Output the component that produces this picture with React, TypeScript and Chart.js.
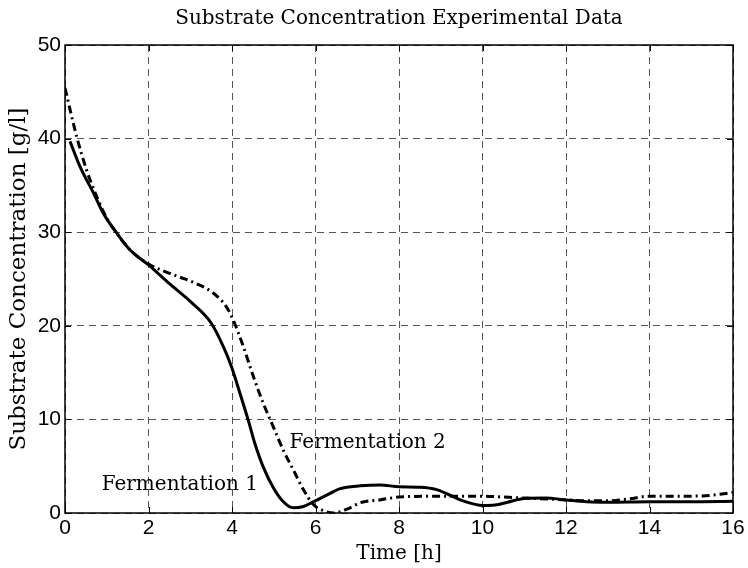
import React, { useEffect, useRef } from "react";
import { Chart, registerables } from "chart.js";

Chart.register(...registerables);

const titleText = "Substrate Concentration Experimental Data";
const xTitle = "Time [h]";
const yTitle = "Substrate Concentration [g/l]";

const f1Label = "Fermentation 1";
const f1X = [0.12, 0.36, 0.68, 0.92, 1.24, 1.56, 2.0, 2.5, 3.0, 3.5, 3.79, 3.99, 4.19, 4.39, 4.55, 4.75, 4.99, 5.23, 5.47, 5.71, 5.95, 6.35, 6.59, 7.07, 7.54, 8.0, 8.5, 8.9, 9.2, 9.5, 9.8, 10.0, 10.3, 10.6, 11.0, 11.5, 12.0, 12.5, 13.0, 14.0, 15.0, 16.0];
const f1Y = [39.7, 37.0, 34.2, 32.0, 29.9, 28.1, 26.5, 24.5, 22.6, 20.3, 17.8, 15.6, 12.8, 9.9, 7.4, 4.9, 2.7, 1.2, 0.55, 0.7, 1.2, 2.1, 2.6, 2.9, 3.0, 2.8, 2.75, 2.5, 1.95, 1.35, 0.95, 0.8, 0.85, 1.15, 1.55, 1.6, 1.4, 1.2, 1.15, 1.2, 1.2, 1.25];

const f2Label = "Fermentation 2";
const f2X = [0, 0.28, 0.52, 0.76, 1.0, 1.24, 1.56, 2.0, 2.51, 2.75, 3.15, 3.55, 3.87, 4.03, 4.27, 4.51, 4.75, 4.99, 5.23, 5.47, 5.71, 5.95, 6.19, 6.43, 6.8, 7.07, 7.54, 8.0, 9.0, 10.0, 10.5, 11.0, 12.0, 12.5, 13.0, 13.5, 14.0, 14.5, 15.0, 15.5, 16.0];
const f2Y = [45.4, 40.2, 36.6, 33.8, 31.5, 29.9, 28.1, 26.6, 25.6, 25.2, 24.5, 23.5, 22.0, 20.6, 17.8, 14.6, 11.7, 9.2, 6.7, 4.6, 2.5, 0.9, 0.25, 0.0, 0.5, 1.1, 1.4, 1.7, 1.8, 1.8, 1.7, 1.6, 1.4, 1.3, 1.3, 1.5, 1.8, 1.8, 1.8, 1.9, 2.2];

const xTicks = [0, 2, 4, 6, 8, 10, 12, 14, 16];
const yTicks = [0, 10, 20, 30, 40, 50];

const annotationTexts = [f1Label, f2Label];
const annotationX = [2.75, 7.25];
const annotationY = [3.0, 7.5];

const SERIF = "'DejaVu Serif', 'Liberation Serif', serif";
const SANS = "'Liberation Sans', Arial, Helvetica, sans-serif";

const titlePlugin = {
  id: "plotTitle",
  afterDraw(chart: any) {
    const { ctx, chartArea } = chart;
    ctx.save();
    ctx.fillStyle = "#000";
    ctx.font = `20px ${SERIF}`;
    ctx.textAlign = "center";
    ctx.textBaseline = "middle";
    ctx.fillText(titleText, (chartArea.left + chartArea.right) / 2, 19);
    ctx.restore();
  },
};

const boxPlugin = {
  id: "boxAndTicks",
  afterDraw(chart: any) {
    const { ctx, chartArea } = chart;
    const { left, right, top, bottom } = chartArea;
    const xs = chart.scales.x;
    const ys = chart.scales.y;
    ctx.save();
    ctx.strokeStyle = "#000";
    ctx.lineWidth = 1;
    ctx.setLineDash([]);
    ctx.beginPath();
    const tl = 6;
    xs.ticks.forEach((t: any) => {
      const p = Math.round(xs.getPixelForValue(t.value)) + 0.5;
      ctx.moveTo(p, bottom);
      ctx.lineTo(p, bottom - tl);
      ctx.moveTo(p, top);
      ctx.lineTo(p, top + tl);
    });
    ys.ticks.forEach((t: any) => {
      const p = Math.round(ys.getPixelForValue(t.value)) + 0.5;
      ctx.moveTo(left, p);
      ctx.lineTo(left + tl, p);
      ctx.moveTo(right, p);
      ctx.lineTo(right - tl, p);
    });
    ctx.stroke();
    ctx.lineWidth = 1.5;
    ctx.strokeRect(left, top, right - left, bottom - top);
    ctx.restore();
  },
};

const annotationPlugin = {
  id: "textAnnotations",
  afterDatasetsDraw(chart: any) {
    const { ctx } = chart;
    const xs = chart.scales.x;
    const ys = chart.scales.y;
    ctx.save();
    ctx.fillStyle = "#000";
    ctx.font = `20px ${SERIF}`;
    ctx.textAlign = "center";
    ctx.textBaseline = "middle";
    annotationTexts.forEach((txt, i) => {
      ctx.fillText(txt, xs.getPixelForValue(annotationX[i]), ys.getPixelForValue(annotationY[i]));
    });
    ctx.restore();
  },
};

export default function App() {
  const canvasRef = useRef<HTMLCanvasElement | null>(null);

  useEffect(() => {
    const canvas = canvasRef.current;
    if (!canvas) return;
    const chart = new Chart(canvas, {
      type: "line",
      data: {
        datasets: [
          {
            label: f1Label,
            data: f1X.map((x, i) => ({ x, y: f1Y[i] })),
            borderColor: "#000",
            borderWidth: 3,
            pointRadius: 0,
            fill: false,
            cubicInterpolationMode: "monotone",
            borderCapStyle: "butt",
            borderJoinStyle: "round",
          },
          {
            label: f2Label,
            data: f2X.map((x, i) => ({ x, y: f2Y[i] })),
            borderColor: "#000",
            borderWidth: 3,
            borderDash: [8, 4, 2, 4],
            pointRadius: 0,
            fill: false,
            cubicInterpolationMode: "monotone",
            borderCapStyle: "butt",
            borderJoinStyle: "round",
          },
        ],
      },
      options: {
        animation: false,
        responsive: false,
        devicePixelRatio: 1,
        layout: { padding: { left: 0, right: 15, top: 45, bottom: 0 } },
        plugins: {
          legend: { display: false },
          tooltip: { enabled: false },
          title: { display: false },
        },
        scales: {
          x: {
            type: "linear",
            min: 0,
            max: 16,
            afterBuildTicks(scale: any) {
              scale.ticks = xTicks.map((v) => ({ value: v }));
            },
            afterFit(scale: any) {
              scale.height = 55;
            },
            ticks: {
              color: "#000",
              font: { family: SANS, size: 21 },
              padding: 3,
              maxRotation: 0,
              autoSkip: false,
            },
            grid: { color: "#555", lineWidth: 1, drawTicks: false },
            border: { display: false, dash: [7, 5] },
            title: {
              display: true,
              text: xTitle,
              color: "#000",
              font: { family: SERIF, size: 20 },
              padding: { top: 0, bottom: 2 },
            },
          },
          y: {
            type: "linear",
            min: 0,
            max: 50,
            afterBuildTicks(scale: any) {
              scale.ticks = yTicks.map((v) => ({ value: v }));
            },
            afterFit(scale: any) {
              scale.width = 65;
            },
            ticks: {
              color: "#000",
              font: { family: SANS, size: 21 },
              padding: 4,
              autoSkip: false,
            },
            grid: { color: "#555", lineWidth: 1, drawTicks: false },
            border: { display: false, dash: [7, 5] },
            title: {
              display: true,
              text: yTitle,
              color: "#000",
              font: { family: SERIF, size: 23 },
              padding: { top: 5, bottom: 0 },
            },
          },
        },
      },
      plugins: [annotationPlugin, boxPlugin, titlePlugin],
    } as any);
    return () => chart.destroy();
  }, []);

  return (
    <div style={{ position: "absolute", left: 0, top: 0, width: 748, height: 568, background: "#fff" }}>
      <canvas ref={canvasRef} width={748} height={568} style={{ display: "block" }} />
    </div>
  );
}
